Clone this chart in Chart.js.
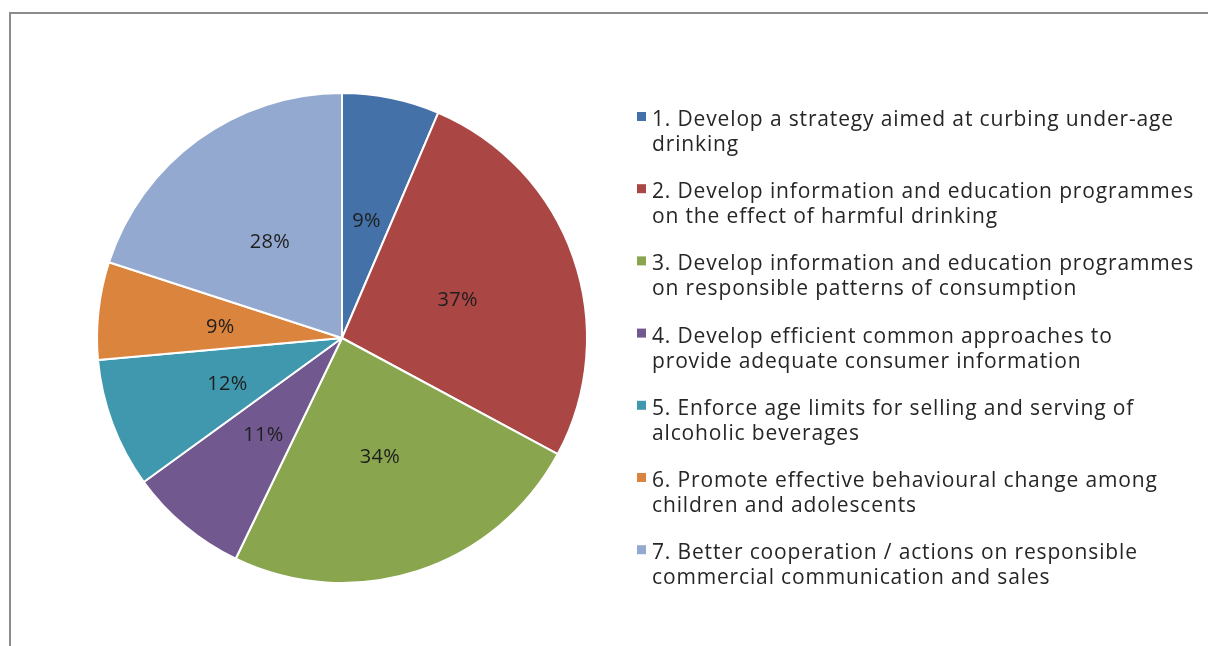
<!DOCTYPE html>
<html>
<head>
<meta charset="utf-8">
<script src="https://cdn.jsdelivr.net/npm/chart.js@4/dist/chart.umd.min.js"></script>
<style>
  html, body { margin: 0; padding: 0; background: #ffffff; overflow: hidden; }
  #frame {
    position: absolute; left: 9px; top: 12px; width: 1400px; height: 800px;
    border: 2px solid #8c8c8c; box-sizing: border-box;
  }
  #wrap { position: absolute; left: 0; top: 0; width: 1208px; height: 646px; }
</style>
</head>
<body>
<div id="frame"></div>
<div id="wrap"><canvas id="chart" width="1208" height="646"></canvas></div>
<script>
// Categories (legend text, already broken into lines)
const categories = [
  ["1. Develop a strategy aimed at curbing under-age", "drinking"],
  ["2. Develop information and education programmes", "on the effect of harmful drinking"],
  ["3. Develop information and education programmes", "on responsible patterns of consumption"],
  ["4. Develop efficient common approaches to", "provide adequate consumer information"],
  ["5. Enforce age limits for selling and serving of", "alcoholic beverages"],
  ["6. Promote effective behavioural change among", "children and adolescents"],
  ["7. Better cooperation / actions on responsible", "commercial communication and sales"]
];
// Share of respondents (%)
const shares = [9, 37, 34, 11, 12, 9, 28];
const sliceColors = ["#4471A7", "#AA4644", "#89A54E", "#71588F", "#4098AF", "#DB843D", "#93A9CF"];

const FONT = "'Open Sans', 'DejaVu Sans', sans-serif";

// Percentage labels placed at each slice's mid point
const sliceLabels = {
  id: 'sliceLabels',
  afterDatasetsDraw(chart) {
    const ctx = chart.ctx;
    const meta = chart.getDatasetMeta(0);
    ctx.save();
    ctx.font = "20px " + FONT;
    ctx.letterSpacing = "0.3px";
    ctx.fillStyle = "#1e1e1e";
    ctx.textAlign = "center";
    ctx.textBaseline = "middle";
    meta.data.forEach((arc, i) => {
      const p = arc.getCenterPoint();
      ctx.fillText(chart.data.datasets[0].data[i] + "%", p.x, p.y + 3);
    });
    ctx.restore();
  }
};

// Right-hand legend with two-line entries
const sideLegend = {
  id: 'sideLegend',
  afterDraw(chart) {
    const ctx = chart.ctx;
    const x0 = 637, textX = 652, base0 = 126, step = 72.2, lineH = 25;
    ctx.save();
    ctx.font = "21px " + FONT;
    ctx.letterSpacing = "0.85px";
    ctx.textAlign = "left";
    ctx.textBaseline = "alphabetic";
    chart.data.labels.forEach((lines, i) => {
      const y = base0 + i * step;
      ctx.fillStyle = chart.data.datasets[0].backgroundColor[i];
      ctx.fillRect(x0, y - 14, 9, 9);
      ctx.fillStyle = "#262626";
      lines.forEach((t, k) => ctx.fillText(t, textX, y + k * lineH));
    });
    ctx.restore();
  }
};

new Chart(document.getElementById('chart'), {
  type: 'pie',
  data: {
    labels: categories,
    datasets: [{
      data: shares,
      backgroundColor: sliceColors,
      borderColor: "#ffffff",
      borderWidth: 2
    }]
  },
  options: {
    responsive: false,
    animation: false,
    layout: { padding: { left: 96, right: 620, top: 92, bottom: 62 } },
    plugins: {
      legend: { display: false },
      tooltip: { enabled: false }
    }
  },
  plugins: [sliceLabels, sideLegend]
});
</script>
</body>
</html>
